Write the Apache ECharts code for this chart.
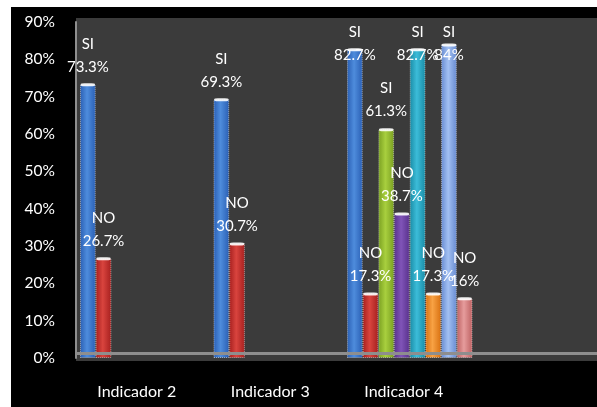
<!DOCTYPE html>
<html>
<head>
<meta charset="utf-8">
<script src="https://cdn.jsdelivr.net/npm/echarts@6/dist/echarts.min.js"></script>
<style>
  html, body { margin: 0; padding: 0; background: #ffffff; overflow: hidden; width: 597px; height: 407px; }
  #chart { position: absolute; left: 11px; top: 7px; width: 640px; height: 400px; background: #000000; }
</style>
</head>
<body>
<div id="chart"></div>
<script>
// Categories and the SI / NO shares (percent) per answer pair
const categories = ['Indicador 2', 'Indicador 3', 'Indicador 4', ''];
const si1 = [73.3, 69.3, 82.7, null];
const no1 = [26.7, 30.7, 17.3, null];
const si2 = [null, null, 61.3, null];
const no2 = [null, null, 38.7, null];
const si3 = [null, null, 82.7, null];
const no3 = [null, null, 17.3, null];
const si4 = [null, null, 84, null];
const no4 = [null, null, 16, null];
const yTicks = [0, 10, 20, 30, 40, 50, 60, 70, 80, 90];

// colours, plus how far each label is pulled down into the plot (px)
const seriesDefs = [
  { name: 'SI', data: si1, base: '#2a5fb4', light: '#4e8cdc', pull: [0, 0, 23, 0] },
  { name: 'NO', data: no1, base: '#a51f1e', light: '#d9443e', pull: [0, 0, 0, 0] },
  { name: 'SI', data: si2, base: '#7aa022', light: '#a8cf3e', pull: [0, 0, 0, 0] },
  { name: 'NO', data: no2, base: '#58318c', light: '#8054b8', pull: [0, 0, 0, 0] },
  { name: 'SI', data: si3, base: '#198ca6', light: '#3cbcd8', pull: [0, 0, 23, 0] },
  { name: 'NO', data: no3, base: '#d87010', light: '#f8a244', pull: [0, 0, 0, 0] },
  { name: 'SI', data: si4, base: '#668ad0', light: '#a2c0f2', pull: [0, 0, 28, 0] },
  { name: 'NO', data: no4, base: '#bd6162', light: '#e69c9c', pull: [0, 0, 0, 0] }
];

const font = 'Lato, "Liberation Sans", sans-serif';
const GAP = '0%';
const CAT_GAP = '6%';

function cylinder(base, light) {
  return new echarts.graphic.LinearGradient(0, 0, 1, 0, [
    { offset: 0, color: base },
    { offset: 0.45, color: light },
    { offset: 1, color: base }
  ]);
}

const bars = seriesDefs.map(function (d) {
  return {
    type: 'bar',
    name: d.name,
    barGap: GAP,
    barCategoryGap: CAT_GAP,
    z: 3,
    data: d.data.map(function (v, i) {
      if (v !== null && d.pull[i]) {
        return { value: v, label: { offset: [0, d.pull[i]] } };
      }
      return v;
    }),
    itemStyle: {
      color: cylinder(d.base, d.light),
      borderColor: 'rgba(255,255,255,0.5)',
      borderWidth: 1,
      borderType: 'dotted'
    },
    label: {
      show: true,
      position: 'top',
      distance: 6,
      color: '#ffffff',
      fontFamily: font,
      fontSize: 15,
      lineHeight: 23,
      align: 'center',
      formatter: function (p) { return p.seriesName + '\n' + p.value + '%'; }
    }
  };
});

// light cap at the top end of every cylinder
const caps = seriesDefs.map(function (d) {
  return {
    type: 'pictorialBar',
    name: d.name,
    barGap: GAP,
    barCategoryGap: CAT_GAP,
    z: 4,
    silent: true,
    symbol: 'roundRect',
    symbolSize: ['90%', 3],
    symbolPosition: 'end',
    symbolOffset: [0, -1],
    itemStyle: { color: 'rgba(255,255,255,0.9)' },
    data: d.data
  };
});

const chart = echarts.init(document.getElementById('chart'));
chart.setOption({
  backgroundColor: '#000000',
  animation: false,
  graphic: [
    // plot area panel and its floor line
    { type: 'rect', z: -10, left: 65, top: 11, shape: { width: 600, height: 343 }, style: { fill: '#3b3b3b' } },
    { type: 'rect', z: 10, left: 65, top: 345, shape: { width: 600, height: 3 }, style: { fill: '#8e8e8e' } }
  ],
  grid: {
    left: 65, top: 15, width: 534, height: 336,
    show: false
  },
  xAxis: {
    type: 'category',
    data: categories,
    axisLine: { show: false },
    axisTick: { show: false },
    axisLabel: {
      color: '#ffffff', fontFamily: font, fontSize: 16, margin: 26,
      padding: [0, 12, 0, 0]
    }
  },
  yAxis: {
    type: 'value',
    min: 0, max: 90, interval: 10,
    axisLine: { show: true, lineStyle: { color: '#8e8e8e', width: 2 } },
    axisTick: { show: false },
    splitLine: { show: false },
    axisLabel: {
      color: '#ffffff', fontFamily: font, fontSize: 15.5, margin: 21,
      padding: [4, 0, 0, 0],
      formatter: function (v) { return yTicks.indexOf(v) >= 0 ? v + '%' : ''; }
    }
  },
  series: bars.concat(caps)
});
</script>
</body>
</html>
